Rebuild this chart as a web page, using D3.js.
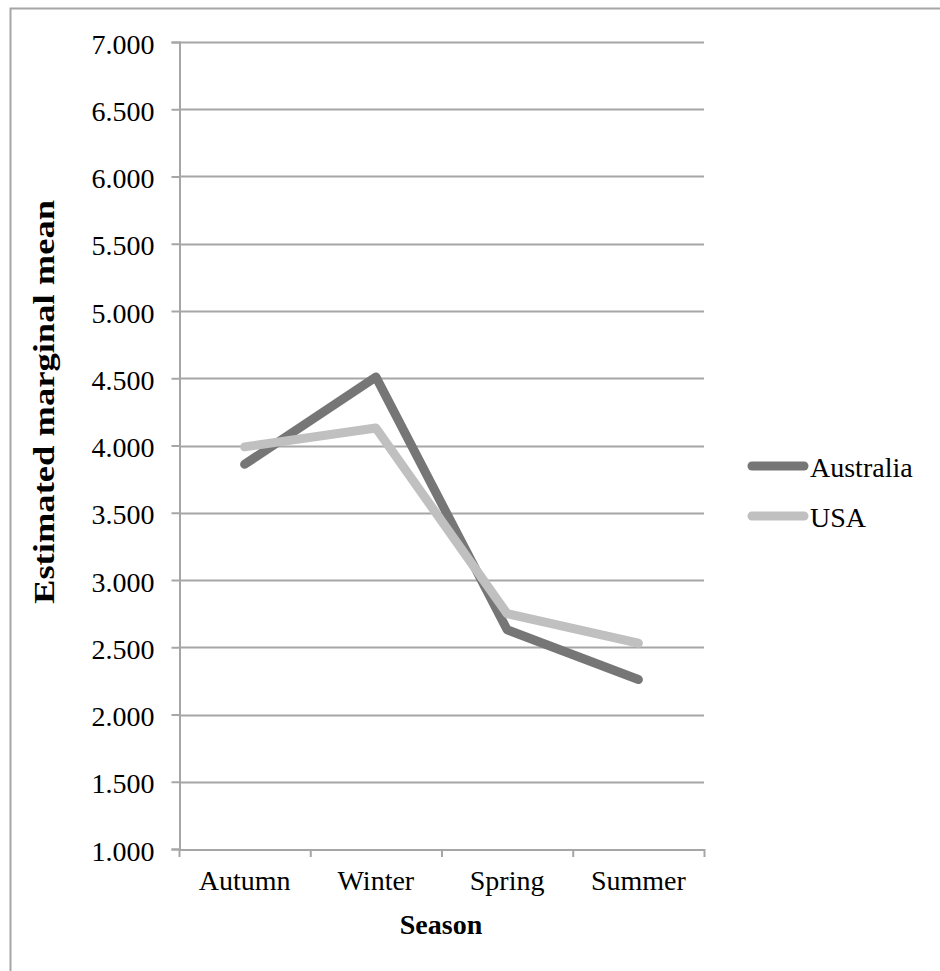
<!DOCTYPE html>
<html><head><meta charset="utf-8">
<script src="https://cdn.jsdelivr.net/npm/d3@7"></script>
<style>body{margin:0;background:#fff}svg{display:block}</style>
</head><body>
<script>
const seasons = ["Autumn", "Winter", "Spring", "Summer"];
const australia = [3.86, 4.51, 2.63, 2.26];
const usa = [3.99, 4.13, 2.75, 2.53];
const seriesNames = ["Australia", "USA"];
const seriesColors = ["#767676", "#c0c0c0"];
const yTicks = [1, 1.5, 2, 2.5, 3, 3.5, 4, 4.5, 5, 5.5, 6, 6.5, 7];

(function () {
const W = 940, H = 971;
const font = "'Liberation Serif', serif";
const fs = 28;
const svg = d3.select("body").append("svg").attr("width", W).attr("height", H);

svg.append("rect").attr("x", 10.5).attr("y", 8.5).attr("width", 1000).attr("height", 1000)
  .attr("fill", "none").attr("stroke", "#a6a6a6").attr("stroke-width", 2);

const mLeft = 179, mRight = 704, mTop = 42, mBottom = 849;
const x = d3.scaleBand().domain(seasons).range([mLeft, mRight]);
const y = d3.scaleLinear().domain([1, 7]).range([mBottom, mTop]);

// gridlines
svg.append("g").selectAll("line").data(yTicks.slice(1)).join("line")
  .attr("x1", mLeft).attr("x2", mRight)
  .attr("y1", d => Math.round(y(d)) + 0.5).attr("y2", d => Math.round(y(d)) + 0.5)
  .attr("stroke", "#a6a6a6").attr("stroke-width", 2);

// y axis
const yAxis = svg.append("g").attr("transform", `translate(${mLeft + 0.5},0)`)
  .call(d3.axisLeft(y).tickValues(yTicks).tickFormat(d3.format(".3f")).tickSize(8).tickPadding(17));
yAxis.select(".domain").attr("stroke", "#a6a6a6").attr("stroke-width", 2);
yAxis.selectAll(".tick line").attr("stroke", "#a6a6a6").attr("stroke-width", 2);
yAxis.selectAll("text").attr("font-family", font).attr("font-size", fs).attr("fill", "#000").attr("dy", "0.4em");

// x axis
const xAxis = svg.append("g").attr("transform", `translate(0,${mBottom + 0.5})`)
  .call(d3.axisBottom(x).tickSize(0).tickPadding(21));
xAxis.select(".domain").attr("stroke", "#a6a6a6").attr("stroke-width", 2);
xAxis.selectAll("text").attr("font-family", font).attr("font-size", fs).attr("fill", "#000");
const bounds = seasons.map(s => x(s)).concat([mRight]);
svg.append("g").selectAll("line").data(bounds).join("line")
  .attr("x1", d => d + 0.5).attr("x2", d => d + 0.5).attr("y1", mBottom).attr("y2", mBottom + 8)
  .attr("stroke", "#a6a6a6").attr("stroke-width", 2);

// lines
const line = d3.line().x((d, i) => x(seasons[i]) + x.bandwidth() / 2).y(d => y(d));
[australia, usa].forEach((vals, k) => {
  svg.append("path").datum(vals).attr("d", line)
    .attr("fill", "none").attr("stroke", seriesColors[k]).attr("stroke-width", 9)
    .attr("stroke-linejoin", "round").attr("stroke-linecap", "round");
});

// axis titles
svg.append("text").attr("transform", "translate(54,402) rotate(-90)")
  .attr("text-anchor", "middle").attr("font-family", font).attr("font-weight", "bold")
  .attr("font-size", 30).attr("textLength", 404).attr("lengthAdjust", "spacingAndGlyphs")
  .text("Estimated marginal mean");
svg.append("text").attr("x", 441).attr("y", 934).attr("text-anchor", "middle")
  .attr("font-family", font).attr("font-weight", "bold").attr("font-size", fs).text("Season");

// legend
const lg = svg.append("g");
seriesNames.forEach((n, k) => {
  const ly = 466 + k * 50;
  lg.append("line").attr("x1", 752).attr("x2", 804).attr("y1", ly).attr("y2", ly)
    .attr("stroke", seriesColors[k]).attr("stroke-width", 9).attr("stroke-linecap", "round");
  lg.append("text").attr("x", 810).attr("y", ly + 11).attr("font-family", font)
    .attr("font-size", fs).text(n);
});
})();
</script>
</body></html>
